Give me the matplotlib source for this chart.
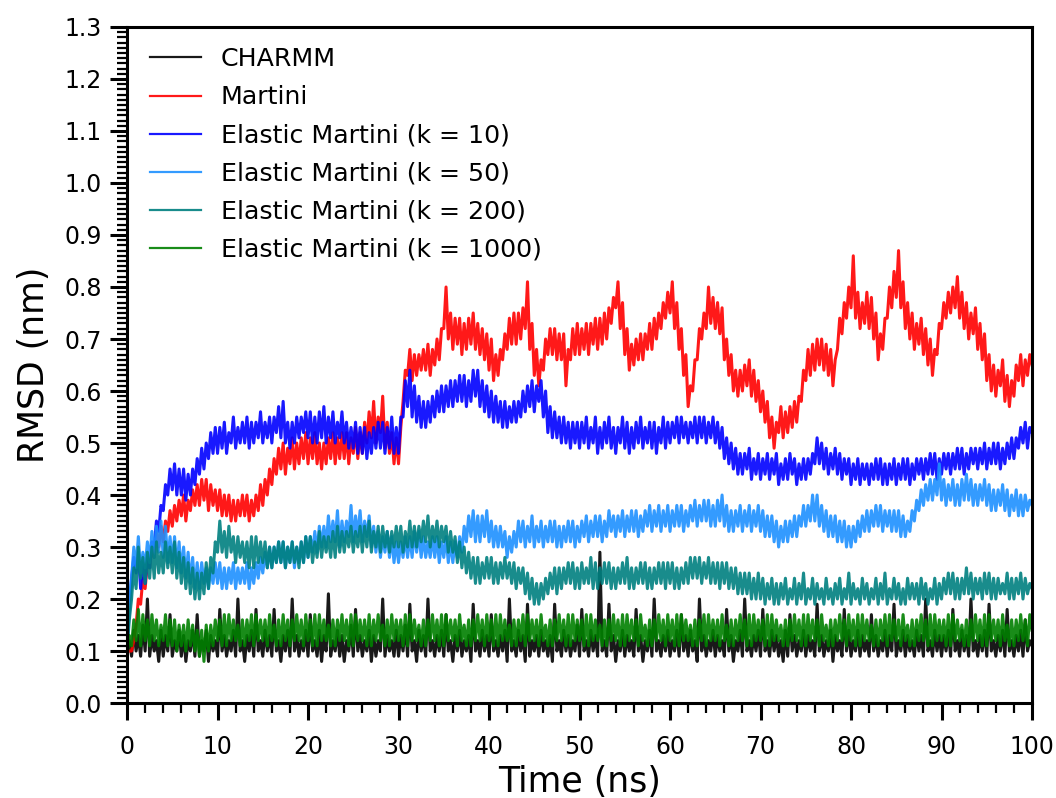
import numpy as np
import matplotlib
matplotlib.use("Agg")
import matplotlib.pyplot as plt
from matplotlib.ticker import MultipleLocator

# Simulation time (ns), sampled every 0.25 ns
time_ns = np.arange(0, 100.25, 0.25)

# RMSD (nm) traces, five nanoseconds per row
charmm = [
    0.10, 0.12, 0.09, 0.14, 0.10, 0.13, 0.09, 0.15, 0.10, 0.20, 0.09, 0.13, 0.10, 0.12, 0.08, 0.14, 0.09, 0.13, 0.10, 0.17,
    0.09, 0.12, 0.10, 0.14, 0.09, 0.13, 0.08, 0.12, 0.10, 0.14, 0.09, 0.17, 0.09, 0.12, 0.10, 0.14, 0.08, 0.13, 0.10, 0.12,
    0.09, 0.18, 0.10, 0.13, 0.09, 0.12, 0.10, 0.14, 0.09, 0.20, 0.10, 0.12, 0.08, 0.13, 0.10, 0.14, 0.09, 0.18, 0.10, 0.12,
    0.09, 0.14, 0.10, 0.13, 0.09, 0.18, 0.10, 0.12, 0.08, 0.13, 0.10, 0.14, 0.09, 0.20, 0.10, 0.13, 0.09, 0.12, 0.10, 0.14,
    0.09, 0.17, 0.10, 0.12, 0.09, 0.14, 0.08, 0.13, 0.10, 0.21, 0.09, 0.12, 0.10, 0.14, 0.09, 0.13, 0.08, 0.12, 0.10, 0.15,
    0.09, 0.18, 0.10, 0.13, 0.09, 0.12, 0.10, 0.14, 0.08, 0.13, 0.09, 0.12, 0.10, 0.20, 0.09, 0.13, 0.10, 0.12, 0.09, 0.14,
    0.09, 0.13, 0.10, 0.15, 0.09, 0.19, 0.10, 0.12, 0.08, 0.14, 0.10, 0.13, 0.09, 0.20, 0.10, 0.12, 0.09, 0.13, 0.10, 0.14,
    0.09, 0.17, 0.10, 0.12, 0.08, 0.13, 0.10, 0.14, 0.09, 0.12, 0.10, 0.13, 0.08, 0.19, 0.10, 0.12, 0.09, 0.14, 0.10, 0.13,
    0.09, 0.17, 0.10, 0.12, 0.09, 0.13, 0.10, 0.14, 0.08, 0.20, 0.10, 0.12, 0.09, 0.14, 0.10, 0.13, 0.08, 0.19, 0.09, 0.12,
    0.10, 0.13, 0.09, 0.14, 0.10, 0.12, 0.09, 0.13, 0.08, 0.19, 0.10, 0.12, 0.09, 0.14, 0.10, 0.13, 0.09, 0.12, 0.10, 0.15,
    0.09, 0.18, 0.10, 0.12, 0.09, 0.14, 0.10, 0.13, 0.09, 0.29, 0.10, 0.12, 0.09, 0.19, 0.10, 0.13, 0.08, 0.12, 0.10, 0.14,
    0.09, 0.13, 0.10, 0.12, 0.09, 0.18, 0.10, 0.13, 0.08, 0.12, 0.10, 0.14, 0.09, 0.20, 0.10, 0.12, 0.09, 0.13, 0.10, 0.14,
    0.09, 0.12, 0.10, 0.14, 0.09, 0.17, 0.10, 0.13, 0.09, 0.14, 0.10, 0.12, 0.08, 0.20, 0.10, 0.13, 0.09, 0.12, 0.10, 0.14,
    0.09, 0.13, 0.10, 0.12, 0.09, 0.18, 0.10, 0.13, 0.08, 0.12, 0.10, 0.14, 0.09, 0.20, 0.10, 0.12, 0.09, 0.13, 0.10, 0.14,
    0.09, 0.18, 0.10, 0.12, 0.09, 0.14, 0.10, 0.13, 0.09, 0.12, 0.08, 0.14, 0.09, 0.17, 0.10, 0.13, 0.09, 0.12, 0.10, 0.14,
    0.09, 0.13, 0.10, 0.12, 0.09, 0.19, 0.10, 0.13, 0.09, 0.12, 0.10, 0.14, 0.08, 0.13, 0.10, 0.12, 0.09, 0.18, 0.10, 0.14,
    0.09, 0.12, 0.10, 0.14, 0.09, 0.13, 0.10, 0.12, 0.09, 0.17, 0.10, 0.13, 0.09, 0.12, 0.10, 0.14, 0.09, 0.13, 0.10, 0.19,
    0.09, 0.12, 0.10, 0.14, 0.09, 0.13, 0.10, 0.12, 0.09, 0.14, 0.10, 0.13, 0.09, 0.20, 0.10, 0.12, 0.09, 0.14, 0.10, 0.13,
    0.09, 0.13, 0.10, 0.14, 0.09, 0.18, 0.10, 0.12, 0.09, 0.14, 0.10, 0.13, 0.09, 0.20, 0.10, 0.12, 0.09, 0.13, 0.10, 0.14,
    0.09, 0.19, 0.10, 0.12, 0.09, 0.13, 0.10, 0.14, 0.09, 0.18, 0.10, 0.12, 0.09, 0.13, 0.10, 0.14, 0.09, 0.16, 0.10, 0.12,
    0.11,
]

martini = [
    0.10, 0.10, 0.10, 0.12, 0.15, 0.20, 0.19, 0.24, 0.22, 0.27, 0.26, 0.30, 0.28, 0.33, 0.30, 0.34, 0.31, 0.35, 0.33, 0.37,
    0.34, 0.38, 0.35, 0.39, 0.36, 0.40, 0.35, 0.39, 0.37, 0.41, 0.38, 0.42, 0.38, 0.43, 0.39, 0.43, 0.37, 0.42, 0.38, 0.41,
    0.37, 0.41, 0.36, 0.40, 0.36, 0.40, 0.35, 0.39, 0.35, 0.39, 0.36, 0.40, 0.36, 0.40, 0.35, 0.39, 0.36, 0.40, 0.37, 0.42,
    0.38, 0.43, 0.40, 0.45, 0.42, 0.47, 0.44, 0.49, 0.45, 0.50, 0.44, 0.49, 0.46, 0.51, 0.45, 0.50, 0.46, 0.51, 0.47, 0.52,
    0.46, 0.51, 0.47, 0.52, 0.46, 0.50, 0.45, 0.50, 0.46, 0.51, 0.47, 0.52, 0.46, 0.51, 0.47, 0.52, 0.47, 0.52, 0.46, 0.51,
    0.48, 0.53, 0.47, 0.52, 0.48, 0.54, 0.50, 0.56, 0.51, 0.58, 0.50, 0.55, 0.52, 0.59, 0.49, 0.54, 0.48, 0.52, 0.46, 0.51,
    0.46, 0.53, 0.58, 0.64, 0.63, 0.68, 0.62, 0.67, 0.63, 0.67, 0.64, 0.68, 0.64, 0.69, 0.63, 0.68, 0.65, 0.70, 0.66, 0.72,
    0.72, 0.80, 0.70, 0.75, 0.68, 0.74, 0.69, 0.74, 0.67, 0.73, 0.68, 0.74, 0.69, 0.75, 0.68, 0.73, 0.67, 0.72, 0.66, 0.71,
    0.64, 0.70, 0.62, 0.67, 0.63, 0.68, 0.66, 0.71, 0.68, 0.74, 0.69, 0.75, 0.69, 0.75, 0.70, 0.76, 0.72, 0.81, 0.68, 0.73,
    0.63, 0.68, 0.61, 0.66, 0.64, 0.70, 0.67, 0.72, 0.67, 0.72, 0.66, 0.71, 0.66, 0.71, 0.61, 0.68, 0.66, 0.72, 0.67, 0.73,
    0.67, 0.72, 0.68, 0.73, 0.67, 0.73, 0.69, 0.74, 0.68, 0.74, 0.69, 0.75, 0.70, 0.76, 0.73, 0.78, 0.76, 0.81, 0.72, 0.77,
    0.67, 0.72, 0.64, 0.69, 0.65, 0.70, 0.66, 0.71, 0.66, 0.71, 0.68, 0.73, 0.68, 0.74, 0.70, 0.75, 0.72, 0.77, 0.74, 0.79,
    0.75, 0.81, 0.72, 0.77, 0.68, 0.72, 0.63, 0.67, 0.57, 0.61, 0.60, 0.66, 0.66, 0.72, 0.70, 0.75, 0.72, 0.80, 0.73, 0.78,
    0.72, 0.77, 0.71, 0.76, 0.66, 0.70, 0.63, 0.67, 0.60, 0.64, 0.59, 0.64, 0.60, 0.65, 0.61, 0.66, 0.59, 0.64, 0.58, 0.62,
    0.56, 0.60, 0.54, 0.58, 0.51, 0.55, 0.49, 0.54, 0.52, 0.57, 0.51, 0.56, 0.52, 0.57, 0.53, 0.58, 0.54, 0.59, 0.58, 0.64,
    0.62, 0.68, 0.63, 0.69, 0.64, 0.70, 0.65, 0.70, 0.64, 0.69, 0.63, 0.68, 0.61, 0.66, 0.68, 0.74, 0.71, 0.77, 0.74, 0.80,
    0.76, 0.86, 0.74, 0.79, 0.72, 0.77, 0.73, 0.79, 0.72, 0.78, 0.70, 0.75, 0.66, 0.71, 0.68, 0.74, 0.74, 0.80, 0.76, 0.83,
    0.78, 0.87, 0.76, 0.81, 0.72, 0.77, 0.70, 0.75, 0.68, 0.73, 0.69, 0.74, 0.67, 0.72, 0.65, 0.70, 0.63, 0.68, 0.67, 0.73,
    0.72, 0.77, 0.74, 0.79, 0.75, 0.80, 0.76, 0.82, 0.74, 0.79, 0.72, 0.77, 0.70, 0.75, 0.71, 0.76, 0.68, 0.73, 0.66, 0.71,
    0.62, 0.67, 0.60, 0.65, 0.59, 0.64, 0.61, 0.66, 0.58, 0.63, 0.57, 0.62, 0.59, 0.65, 0.62, 0.67, 0.61, 0.66, 0.63, 0.67,
    0.65,
]

elastic_k10 = [
    0.10, 0.18, 0.24, 0.28, 0.25, 0.29, 0.22, 0.27, 0.23, 0.28, 0.26, 0.31, 0.30, 0.35, 0.33, 0.38, 0.37, 0.42, 0.40, 0.45,
    0.41, 0.46, 0.40, 0.45, 0.40, 0.45, 0.39, 0.44, 0.40, 0.45, 0.42, 0.47, 0.44, 0.49, 0.45, 0.50, 0.47, 0.52, 0.48, 0.53,
    0.48, 0.53, 0.49, 0.54, 0.48, 0.52, 0.50, 0.55, 0.49, 0.53, 0.50, 0.54, 0.50, 0.55, 0.49, 0.54, 0.50, 0.54, 0.51, 0.56,
    0.50, 0.54, 0.51, 0.55, 0.50, 0.55, 0.52, 0.57, 0.51, 0.58, 0.50, 0.54, 0.49, 0.54, 0.50, 0.55, 0.51, 0.55, 0.52, 0.56,
    0.51, 0.56, 0.50, 0.55, 0.50, 0.56, 0.51, 0.57, 0.50, 0.55, 0.51, 0.56, 0.50, 0.54, 0.51, 0.56, 0.50, 0.54, 0.49, 0.53,
    0.49, 0.54, 0.48, 0.53, 0.48, 0.53, 0.47, 0.52, 0.48, 0.53, 0.49, 0.54, 0.49, 0.54, 0.48, 0.53, 0.49, 0.55, 0.48, 0.53,
    0.48, 0.55, 0.55, 0.62, 0.57, 0.64, 0.55, 0.61, 0.54, 0.59, 0.53, 0.58, 0.53, 0.58, 0.54, 0.59, 0.55, 0.60, 0.56, 0.61,
    0.56, 0.61, 0.57, 0.62, 0.57, 0.62, 0.58, 0.63, 0.58, 0.63, 0.57, 0.62, 0.58, 0.64, 0.59, 0.64, 0.57, 0.62, 0.56, 0.61,
    0.55, 0.60, 0.54, 0.59, 0.54, 0.58, 0.53, 0.58, 0.53, 0.57, 0.54, 0.58, 0.54, 0.58, 0.55, 0.60, 0.56, 0.61, 0.57, 0.62,
    0.56, 0.61, 0.58, 0.62, 0.55, 0.60, 0.52, 0.57, 0.51, 0.56, 0.51, 0.55, 0.50, 0.55, 0.50, 0.54, 0.49, 0.54, 0.50, 0.54,
    0.49, 0.54, 0.50, 0.55, 0.49, 0.53, 0.50, 0.55, 0.48, 0.53, 0.49, 0.54, 0.50, 0.55, 0.49, 0.53, 0.48, 0.53, 0.50, 0.55,
    0.49, 0.54, 0.48, 0.53, 0.49, 0.54, 0.50, 0.55, 0.49, 0.53, 0.50, 0.54, 0.49, 0.54, 0.48, 0.53, 0.50, 0.55, 0.49, 0.54,
    0.50, 0.54, 0.51, 0.55, 0.50, 0.55, 0.51, 0.54, 0.50, 0.54, 0.51, 0.55, 0.50, 0.55, 0.51, 0.55, 0.50, 0.54, 0.51, 0.55,
    0.50, 0.54, 0.49, 0.53, 0.47, 0.51, 0.46, 0.50, 0.45, 0.49, 0.44, 0.48, 0.44, 0.48, 0.45, 0.49, 0.43, 0.47, 0.44, 0.48,
    0.43, 0.47, 0.44, 0.48, 0.43, 0.47, 0.44, 0.48, 0.42, 0.46, 0.43, 0.47, 0.43, 0.48, 0.44, 0.47, 0.42, 0.46, 0.43, 0.47,
    0.43, 0.47, 0.44, 0.48, 0.46, 0.51, 0.46, 0.50, 0.45, 0.49, 0.44, 0.48, 0.45, 0.49, 0.44, 0.48, 0.43, 0.47, 0.44, 0.47,
    0.42, 0.46, 0.43, 0.47, 0.42, 0.46, 0.43, 0.46, 0.42, 0.46, 0.43, 0.47, 0.43, 0.47, 0.42, 0.46, 0.42, 0.46, 0.43, 0.47,
    0.42, 0.46, 0.43, 0.47, 0.43, 0.47, 0.42, 0.46, 0.43, 0.47, 0.44, 0.47, 0.43, 0.47, 0.44, 0.48, 0.44, 0.48, 0.43, 0.47,
    0.44, 0.48, 0.45, 0.48, 0.44, 0.48, 0.45, 0.49, 0.45, 0.49, 0.44, 0.48, 0.45, 0.49, 0.46, 0.49, 0.45, 0.49, 0.46, 0.50,
    0.45, 0.49, 0.46, 0.50, 0.46, 0.50, 0.45, 0.49, 0.46, 0.50, 0.47, 0.51, 0.47, 0.51, 0.49, 0.53, 0.50, 0.54, 0.49, 0.53,
    0.52,
]

elastic_k50 = [
    0.12, 0.20, 0.24, 0.30, 0.26, 0.32, 0.25, 0.29, 0.26, 0.31, 0.27, 0.33, 0.28, 0.34, 0.29, 0.35, 0.28, 0.34, 0.27, 0.32,
    0.27, 0.32, 0.26, 0.31, 0.25, 0.30, 0.24, 0.29, 0.23, 0.28, 0.22, 0.27, 0.22, 0.27, 0.23, 0.26, 0.22, 0.26, 0.23, 0.27,
    0.23, 0.27, 0.22, 0.26, 0.22, 0.26, 0.23, 0.27, 0.22, 0.26, 0.23, 0.26, 0.23, 0.27, 0.22, 0.26, 0.23, 0.27, 0.24, 0.28,
    0.25, 0.29, 0.26, 0.30, 0.26, 0.30, 0.27, 0.31, 0.27, 0.31, 0.26, 0.30, 0.27, 0.31, 0.26, 0.30, 0.27, 0.31, 0.27, 0.32,
    0.28, 0.32, 0.29, 0.33, 0.29, 0.34, 0.30, 0.34, 0.30, 0.36, 0.31, 0.35, 0.31, 0.37, 0.30, 0.35, 0.31, 0.35, 0.32, 0.38,
    0.31, 0.36, 0.32, 0.37, 0.31, 0.35, 0.32, 0.36, 0.30, 0.34, 0.29, 0.33, 0.28, 0.32, 0.29, 0.33, 0.28, 0.32, 0.27, 0.31,
    0.27, 0.31, 0.28, 0.32, 0.28, 0.32, 0.28, 0.33, 0.29, 0.33, 0.28, 0.32, 0.28, 0.31, 0.28, 0.32, 0.28, 0.32, 0.27, 0.31,
    0.28, 0.32, 0.27, 0.31, 0.27, 0.31, 0.28, 0.32, 0.29, 0.34, 0.31, 0.36, 0.32, 0.37, 0.31, 0.36, 0.31, 0.36, 0.32, 0.37,
    0.31, 0.35, 0.30, 0.34, 0.30, 0.34, 0.30, 0.33, 0.28, 0.32, 0.29, 0.33, 0.30, 0.35, 0.31, 0.35, 0.30, 0.34, 0.31, 0.36,
    0.30, 0.34, 0.31, 0.35, 0.30, 0.34, 0.31, 0.35, 0.31, 0.35, 0.30, 0.34, 0.30, 0.34, 0.31, 0.35, 0.31, 0.35, 0.30, 0.34,
    0.31, 0.35, 0.32, 0.36, 0.31, 0.35, 0.32, 0.36, 0.32, 0.36, 0.31, 0.35, 0.32, 0.37, 0.33, 0.36, 0.32, 0.36, 0.33, 0.37,
    0.32, 0.36, 0.33, 0.37, 0.33, 0.37, 0.32, 0.36, 0.33, 0.37, 0.34, 0.38, 0.33, 0.37, 0.34, 0.38, 0.33, 0.37, 0.34, 0.38,
    0.33, 0.37, 0.34, 0.38, 0.34, 0.38, 0.33, 0.37, 0.34, 0.38, 0.35, 0.39, 0.34, 0.38, 0.35, 0.39, 0.35, 0.39, 0.34, 0.38,
    0.34, 0.39, 0.35, 0.40, 0.34, 0.38, 0.33, 0.37, 0.33, 0.37, 0.34, 0.38, 0.33, 0.37, 0.34, 0.38, 0.33, 0.37, 0.34, 0.38,
    0.33, 0.37, 0.32, 0.36, 0.32, 0.36, 0.31, 0.35, 0.30, 0.34, 0.31, 0.35, 0.31, 0.35, 0.32, 0.36, 0.32, 0.36, 0.34, 0.38,
    0.34, 0.38, 0.35, 0.40, 0.35, 0.40, 0.34, 0.38, 0.33, 0.37, 0.32, 0.36, 0.32, 0.36, 0.31, 0.35, 0.31, 0.35, 0.30, 0.34,
    0.30, 0.34, 0.31, 0.35, 0.32, 0.36, 0.33, 0.37, 0.33, 0.37, 0.34, 0.38, 0.34, 0.38, 0.33, 0.37, 0.34, 0.37, 0.33, 0.37,
    0.33, 0.37, 0.32, 0.36, 0.32, 0.35, 0.33, 0.37, 0.35, 0.39, 0.37, 0.41, 0.38, 0.42, 0.39, 0.43, 0.39, 0.43, 0.40, 0.46,
    0.39, 0.43, 0.38, 0.42, 0.39, 0.43, 0.38, 0.42, 0.38, 0.43, 0.39, 0.44, 0.39, 0.43, 0.38, 0.42, 0.38, 0.42, 0.39, 0.43,
    0.38, 0.42, 0.37, 0.41, 0.37, 0.41, 0.38, 0.42, 0.37, 0.41, 0.36, 0.40, 0.37, 0.41, 0.36, 0.40, 0.36, 0.40, 0.37, 0.39,
    0.38,
]

elastic_k200 = [
    0.10, 0.16, 0.20, 0.26, 0.22, 0.30, 0.24, 0.28, 0.23, 0.29, 0.24, 0.30, 0.24, 0.31, 0.25, 0.29, 0.25, 0.31, 0.26, 0.30,
    0.25, 0.31, 0.24, 0.29, 0.23, 0.28, 0.22, 0.27, 0.21, 0.26, 0.20, 0.25, 0.20, 0.25, 0.21, 0.27, 0.22, 0.28, 0.25, 0.31,
    0.29, 0.35, 0.29, 0.33, 0.28, 0.34, 0.29, 0.32, 0.27, 0.32, 0.28, 0.31, 0.27, 0.31, 0.26, 0.32, 0.26, 0.32, 0.27, 0.31,
    0.27, 0.31, 0.26, 0.30, 0.26, 0.30, 0.27, 0.31, 0.27, 0.31, 0.26, 0.30, 0.27, 0.31, 0.27, 0.30, 0.26, 0.31, 0.27, 0.32,
    0.28, 0.32, 0.27, 0.31, 0.28, 0.33, 0.28, 0.32, 0.29, 0.32, 0.28, 0.33, 0.28, 0.34, 0.29, 0.33, 0.29, 0.33, 0.30, 0.34,
    0.29, 0.33, 0.30, 0.34, 0.29, 0.34, 0.30, 0.35, 0.29, 0.33, 0.30, 0.34, 0.29, 0.34, 0.30, 0.33, 0.29, 0.33, 0.30, 0.34,
    0.30, 0.34, 0.29, 0.33, 0.30, 0.35, 0.30, 0.34, 0.30, 0.34, 0.31, 0.35, 0.31, 0.36, 0.30, 0.34, 0.31, 0.35, 0.30, 0.34,
    0.31, 0.34, 0.29, 0.33, 0.29, 0.32, 0.27, 0.31, 0.26, 0.30, 0.25, 0.29, 0.24, 0.28, 0.23, 0.28, 0.23, 0.27, 0.24, 0.28,
    0.24, 0.28, 0.23, 0.27, 0.23, 0.27, 0.24, 0.28, 0.24, 0.27, 0.23, 0.27, 0.22, 0.26, 0.23, 0.26, 0.21, 0.25, 0.20, 0.24,
    0.19, 0.23, 0.19, 0.23, 0.20, 0.24, 0.21, 0.25, 0.22, 0.26, 0.21, 0.26, 0.22, 0.26, 0.23, 0.27, 0.23, 0.27, 0.22, 0.26,
    0.22, 0.27, 0.23, 0.26, 0.23, 0.28, 0.22, 0.27, 0.22, 0.26, 0.23, 0.27, 0.23, 0.27, 0.22, 0.26, 0.22, 0.26, 0.23, 0.27,
    0.23, 0.28, 0.22, 0.26, 0.22, 0.26, 0.23, 0.27, 0.23, 0.27, 0.22, 0.26, 0.22, 0.26, 0.23, 0.27, 0.23, 0.27, 0.22, 0.27,
    0.23, 0.27, 0.22, 0.26, 0.22, 0.26, 0.23, 0.27, 0.23, 0.28, 0.24, 0.28, 0.24, 0.28, 0.23, 0.27, 0.24, 0.28, 0.23, 0.27,
    0.23, 0.27, 0.22, 0.27, 0.23, 0.27, 0.22, 0.26, 0.22, 0.26, 0.21, 0.25, 0.21, 0.25, 0.21, 0.25, 0.20, 0.24, 0.20, 0.25,
    0.20, 0.24, 0.19, 0.23, 0.20, 0.24, 0.19, 0.23, 0.19, 0.23, 0.20, 0.24, 0.19, 0.22, 0.20, 0.24, 0.19, 0.23, 0.20, 0.25,
    0.19, 0.22, 0.20, 0.24, 0.19, 0.23, 0.20, 0.22, 0.19, 0.24, 0.20, 0.22, 0.19, 0.23, 0.20, 0.24, 0.19, 0.22, 0.20, 0.25,
    0.19, 0.23, 0.20, 0.22, 0.19, 0.24, 0.20, 0.23, 0.19, 0.22, 0.20, 0.24, 0.19, 0.23, 0.20, 0.25, 0.19, 0.22, 0.20, 0.24,
    0.20, 0.23, 0.19, 0.22, 0.19, 0.24, 0.20, 0.23, 0.20, 0.23, 0.19, 0.24, 0.20, 0.23, 0.19, 0.22, 0.20, 0.24, 0.19, 0.23,
    0.20, 0.24, 0.21, 0.25, 0.21, 0.25, 0.20, 0.24, 0.20, 0.24, 0.21, 0.26, 0.21, 0.25, 0.20, 0.24, 0.21, 0.24, 0.20, 0.25,
    0.21, 0.25, 0.20, 0.24, 0.20, 0.24, 0.21, 0.23, 0.21, 0.25, 0.20, 0.24, 0.20, 0.24, 0.21, 0.25, 0.20, 0.24, 0.21, 0.23,
    0.22,
]

elastic_k1000 = [
    0.09, 0.13, 0.11, 0.16, 0.12, 0.18, 0.11, 0.17, 0.12, 0.16, 0.11, 0.17, 0.12, 0.16, 0.11, 0.15, 0.12, 0.17, 0.11, 0.16,
    0.11, 0.16, 0.10, 0.15, 0.11, 0.15, 0.10, 0.16, 0.11, 0.15, 0.10, 0.14, 0.09, 0.14, 0.08, 0.15, 0.10, 0.15, 0.11, 0.16,
    0.12, 0.16, 0.11, 0.17, 0.11, 0.17, 0.12, 0.16, 0.12, 0.15, 0.11, 0.16, 0.11, 0.16, 0.12, 0.17, 0.11, 0.17, 0.12, 0.16,
    0.12, 0.16, 0.11, 0.17, 0.12, 0.15, 0.11, 0.16, 0.11, 0.17, 0.12, 0.16, 0.11, 0.16, 0.12, 0.17, 0.12, 0.16, 0.11, 0.17,
    0.12, 0.16, 0.11, 0.17, 0.11, 0.17, 0.12, 0.16, 0.12, 0.15, 0.11, 0.16, 0.11, 0.16, 0.12, 0.17, 0.12, 0.16, 0.11, 0.17,
    0.11, 0.17, 0.12, 0.16, 0.12, 0.16, 0.11, 0.17, 0.11, 0.16, 0.12, 0.17, 0.12, 0.15, 0.11, 0.16, 0.11, 0.17, 0.12, 0.16,
    0.12, 0.16, 0.11, 0.17, 0.11, 0.17, 0.12, 0.16, 0.12, 0.15, 0.11, 0.16, 0.11, 0.16, 0.12, 0.17, 0.12, 0.16, 0.11, 0.17,
    0.11, 0.17, 0.12, 0.16, 0.12, 0.16, 0.11, 0.17, 0.12, 0.15, 0.11, 0.16, 0.11, 0.16, 0.12, 0.17, 0.12, 0.16, 0.11, 0.17,
    0.12, 0.16, 0.11, 0.17, 0.11, 0.17, 0.12, 0.16, 0.12, 0.15, 0.11, 0.16, 0.11, 0.16, 0.12, 0.17, 0.11, 0.17, 0.12, 0.16,
    0.12, 0.16, 0.11, 0.17, 0.12, 0.15, 0.11, 0.16, 0.11, 0.16, 0.12, 0.17, 0.12, 0.16, 0.11, 0.17, 0.11, 0.17, 0.12, 0.16,
    0.12, 0.16, 0.11, 0.17, 0.11, 0.17, 0.12, 0.16, 0.12, 0.15, 0.11, 0.16, 0.11, 0.16, 0.12, 0.17, 0.12, 0.16, 0.11, 0.17,
    0.11, 0.17, 0.12, 0.16, 0.12, 0.16, 0.11, 0.17, 0.12, 0.15, 0.11, 0.16, 0.11, 0.16, 0.12, 0.17, 0.12, 0.16, 0.11, 0.17,
    0.12, 0.16, 0.11, 0.17, 0.11, 0.17, 0.12, 0.16, 0.12, 0.15, 0.11, 0.16, 0.11, 0.16, 0.12, 0.17, 0.11, 0.17, 0.12, 0.16,
    0.12, 0.16, 0.11, 0.17, 0.12, 0.15, 0.11, 0.16, 0.11, 0.16, 0.12, 0.17, 0.12, 0.16, 0.11, 0.17, 0.11, 0.17, 0.12, 0.16,
    0.12, 0.16, 0.11, 0.17, 0.11, 0.17, 0.12, 0.16, 0.12, 0.15, 0.11, 0.16, 0.11, 0.16, 0.12, 0.17, 0.12, 0.16, 0.11, 0.17,
    0.11, 0.17, 0.12, 0.16, 0.12, 0.16, 0.11, 0.17, 0.12, 0.15, 0.11, 0.16, 0.11, 0.16, 0.12, 0.17, 0.12, 0.16, 0.11, 0.17,
    0.12, 0.16, 0.11, 0.17, 0.11, 0.17, 0.12, 0.16, 0.12, 0.15, 0.11, 0.16, 0.11, 0.16, 0.12, 0.17, 0.11, 0.17, 0.12, 0.16,
    0.12, 0.16, 0.11, 0.17, 0.12, 0.15, 0.11, 0.16, 0.11, 0.16, 0.12, 0.17, 0.12, 0.16, 0.11, 0.17, 0.11, 0.17, 0.12, 0.16,
    0.12, 0.16, 0.11, 0.17, 0.11, 0.17, 0.12, 0.16, 0.12, 0.15, 0.11, 0.16, 0.11, 0.16, 0.12, 0.17, 0.12, 0.16, 0.11, 0.17,
    0.11, 0.17, 0.12, 0.16, 0.12, 0.16, 0.11, 0.17, 0.12, 0.15, 0.11, 0.16, 0.11, 0.16, 0.12, 0.17, 0.12, 0.16, 0.11, 0.17,
    0.14,
]

series_labels = [
    "CHARMM",
    "Martini",
    "Elastic Martini (k = 10)",
    "Elastic Martini (k = 50)",
    "Elastic Martini (k = 200)",
    "Elastic Martini (k = 1000)",
]
series_values = [charmm, martini, elastic_k10, elastic_k50, elastic_k200, elastic_k1000]
series_colors = ["black", "red", "blue", "dodgerblue", "teal", "green"]

fig = plt.figure(figsize=(10.56, 7.98), dpi=100)
ax = fig.add_axes([0.1203, 0.119, 0.8570, 0.8472])

for label, values, color in zip(series_labels, series_values, series_colors):
    ax.plot(time_ns[:len(values)], values, color=color, alpha=0.9, lw=2.2, label=label)

ax.set_xlim(0, 100)
ax.set_ylim(0, 1.3)
ax.xaxis.set_major_locator(MultipleLocator(10))
ax.xaxis.set_minor_locator(MultipleLocator(2))
ax.yaxis.set_major_locator(MultipleLocator(0.1))
ax.yaxis.set_minor_locator(MultipleLocator(0.01))
ax.yaxis.set_major_formatter(plt.FuncFormatter(lambda v, p: f"{v:.1f}"))

ax.tick_params(which="major", direction="out", length=12, width=2.2,
               labelsize=17, colors="black", pad=6)
ax.tick_params(axis="x", which="major", pad=11)
ax.tick_params(which="minor", direction="out", length=7, width=1.6)
for spine in ax.spines.values():
    spine.set_linewidth(2.2)

ax.set_xlabel("Time (ns)", fontsize=25, labelpad=4)
ax.set_ylabel("RMSD (nm)", fontsize=25, labelpad=10)

leg = ax.legend(loc="upper left", frameon=False, fontsize=18.2,
                handlelength=2.0, labelspacing=0.56,
                bbox_to_anchor=(0.003, 1.0), borderaxespad=0.4)
for line in leg.get_lines():
    line.set_linewidth(1.6)

fig.savefig("out.png", dpi=100)
